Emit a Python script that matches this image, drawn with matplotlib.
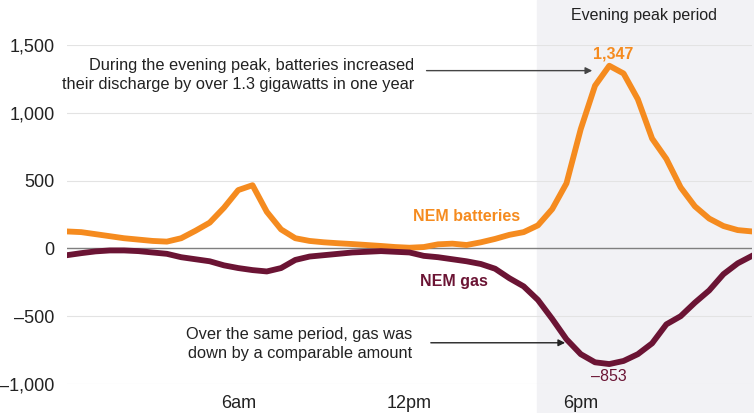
import matplotlib.pyplot as plt
from matplotlib.transforms import blended_transform_factory
from matplotlib.patches import Rectangle

plt.rcParams['font.family'] = ['Liberation Sans', 'DejaVu Sans']

# half-hourly, 00:00 .. 24:00 (hours)
hours = [i * 0.5 for i in range(49)]

batteries = [125, 120, 105, 90, 75, 65, 55, 50, 75, 130,
             190, 300, 430, 466, 270, 140, 75, 55, 45, 38,
             32, 25, 18, 10, 5, 10, 30, 35, 25, 45,
             70, 100, 120, 170, 290, 480, 880, 1200, 1347, 1290,
             1100, 810, 660, 450, 310, 220, 165, 135, 125]

gas = [-50, -35, -22, -15, -15, -20, -30, -40, -65, -80,
       -95, -125, -145, -160, -170, -145, -85, -60, -50, -40,
       -30, -25, -20, -25, -30, -55, -65, -80, -95, -115,
       -150, -220, -280, -380, -520, -670, -780, -840, -853, -830,
       -780, -700, -560, -500, -400, -310, -190, -110, -55]

xticks = [6, 12, 18]
xlabels = ['6am', '12pm', '6pm']
yticks = [-1000, -500, 0, 500, 1000, 1500]

orange = '#f58b1f'
maroon = '#6b1434'
txt = '#222222'

fig = plt.figure(figsize=(7.54, 4.13), dpi=100)
ax = fig.add_axes([67 / 754, (413 - 384) / 413, 685 / 754, 339 / 413])

# evening peak shading, full figure height
trans = blended_transform_factory(ax.transData, fig.transFigure)
ax.add_patch(Rectangle((16.45, 0), 7.6, 1, transform=trans, color='#f2f2f5',
                       zorder=0, clip_on=False))
ax.text(20.2, 0.98, 'Evening peak period', transform=trans, ha='center',
        va='top', fontsize=11.5, color=txt)

for v in yticks:
    if v != 0:
        ax.axhline(v, color='#e3e3e3', lw=0.8, zorder=1)
ax.axhline(0, color='#7f7f7f', lw=1, zorder=1)

ax.plot(hours, batteries, color=orange, lw=4.2, zorder=3, solid_joinstyle='round')
ax.plot(hours, gas, color=maroon, lw=4.2, zorder=3, solid_joinstyle='round')

ax.set_xlim(0, 24)
ax.set_ylim(-1000, 1500)
ax.set_xticks(xticks)
ax.set_xticklabels(xlabels)
ax.set_yticks(yticks)
ax.set_yticklabels([f'{v:,}'.replace('-', '\u2013') for v in yticks])
ax.tick_params(length=0, labelsize=13, colors=txt)
ax.tick_params(axis='y', pad=9)
ax.tick_params(axis='x', pad=8)
for s in ax.spines.values():
    s.set_visible(False)
ax.patch.set_visible(False)

# series labels and values
ax.text(14.0, 237, 'NEM batteries', color=orange, fontsize=11.5,
        fontweight='bold', ha='center', va='center')
ax.text(13.55, -244, 'NEM gas', color=maroon, fontsize=11.5,
        fontweight='bold', ha='center', va='center')
ax.text(19.15, 1437, '1,347', color=orange, fontsize=11.5,
        fontweight='bold', ha='center', va='center')
ax.text(19.0, -948, '\u2013853', color=maroon, fontsize=11.5,
        ha='center', va='center')

# annotations
ax.text(12.15, 1278, 'During the evening peak, batteries increased\n'
        'their discharge by over 1.3 gigawatts in one year',
        ha='right', va='center', fontsize=11.8, color=txt, linespacing=1.3)
ax.annotate('', xy=(18.5, 1311), xytext=(12.5, 1311),
            arrowprops=dict(arrowstyle='-|>', color='#444444', lw=1,
                            mutation_scale=10))
ax.text(12.1, -707, 'Over the same period, gas was\n'
        'down by a comparable amount',
        ha='right', va='center', fontsize=11.8, color=txt, linespacing=1.3)
ax.annotate('', xy=(17.55, -696), xytext=(12.65, -696),
            arrowprops=dict(arrowstyle='-|>', color='#222222', lw=1,
                            mutation_scale=10))

fig.savefig('out.png', dpi=100)
